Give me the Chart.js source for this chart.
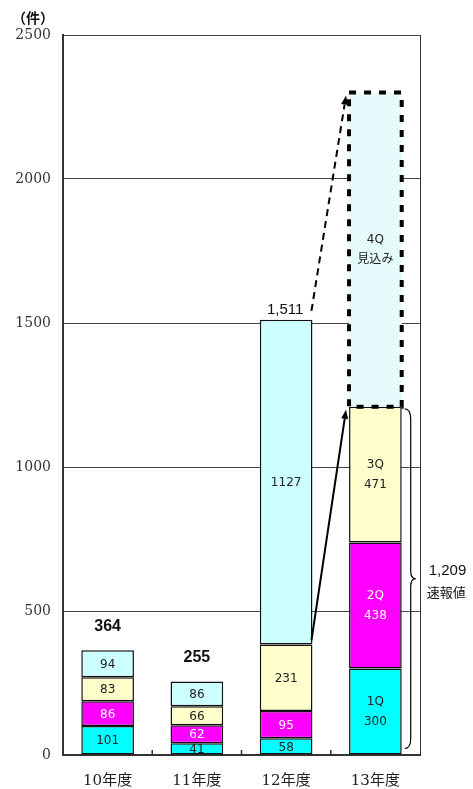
<!DOCTYPE html>
<html>
<head>
<meta charset="utf-8">
<script src="https://cdn.jsdelivr.net/npm/chart.js@4.4.0/dist/chart.umd.min.js"></script>
<style>
  html, body { margin: 0; padding: 0; background: #fff; }
  #wrap { width: 473px; height: 789px; }
</style>
</head>
<body>
<div id="wrap"><canvas id="chart" width="473" height="789"></canvas></div>
<script>
// data
const years = ["10年度", "11年度", "12年度", "13年度"];
const q1 = [101, 41, 58, 300];
const q2 = [86, 62, 95, 438];
const q3 = [83, 66, 231, 471];
const q4 = [94, 86, 1127, 1091];   // 13年度 = 見込み (estimate)
const totals = ["364", "255", "1,511", null];
const quarterNames = ["1Q", "2Q", "3Q", "4Q"];
const estimateNote = "見込み";
const prelimTotal = "1,209";
const prelimNote = "速報値";
const unitLabel = "（件）";
const yTicks = [0, 500, 1000, 1500, 2000, 2500];

const serif = '"DejaVu Serif", "Noto Sans CJK JP"';
const gothic = '"DejaVu Sans", "Noto Sans CJK JP"';

function dotPattern() {
  const c = document.createElement("canvas");
  c.width = 4; c.height = 4;
  const g = c.getContext("2d");
  g.fillStyle = "#eafdfd";
  g.fillRect(0, 0, 4, 4);
  g.fillStyle = "#cdf3f3";
  g.fillRect(0, 0, 1, 1);
  g.fillRect(2, 2, 1, 1);
  return g.createPattern(c, "repeat");
}
const estFill = dotPattern();
const EST = 3; // index of the estimated bar

function arrow(ctx, x1, y1, x2, y2, dash) {
  const a = Math.atan2(y2 - y1, x2 - x1);
  const hl = 9, hw = 3.5;
  ctx.save();
  ctx.strokeStyle = "#000";
  ctx.fillStyle = "#000";
  ctx.lineWidth = 2;
  ctx.setLineDash(dash);
  ctx.beginPath();
  ctx.moveTo(x1, y1);
  ctx.lineTo(x2 - hl * Math.cos(a), y2 - hl * Math.sin(a));
  ctx.stroke();
  ctx.setLineDash([]);
  const bx = x2 - hl * Math.cos(a), by = y2 - hl * Math.sin(a);
  ctx.beginPath();
  ctx.moveTo(x2, y2);
  ctx.lineTo(bx + hw * Math.sin(a), by - hw * Math.cos(a));
  ctx.lineTo(bx - hw * Math.sin(a), by + hw * Math.cos(a));
  ctx.closePath();
  ctx.fill();
  ctx.restore();
}

const extras = {
  id: "extras",
  afterDatasetsDraw(chart) {
    const ctx = chart.ctx;
    const area = chart.chartArea;
    const xs = chart.scales.x;
    const metas = chart.data.datasets.map((d, i) => chart.getDatasetMeta(i));

    ctx.save();
    // right frame line
    ctx.strokeStyle = "#333";
    ctx.lineWidth = 1;
    ctx.beginPath();
    ctx.moveTo(area.right + 0.5, area.top);
    ctx.lineTo(area.right + 0.5, area.bottom);
    ctx.stroke();

    // inward ticks between categories
    ctx.lineWidth = 1.5;
    for (let i = 0; i < years.length - 1; i++) {
      const bx = (xs.getPixelForValue(i) + xs.getPixelForValue(i + 1)) / 2;
      ctx.beginPath();
      ctx.moveTo(bx, area.bottom);
      ctx.lineTo(bx, area.bottom - 5);
      ctx.stroke();
    }

    // dashed outline of the estimate bar
    const est = metas[3].data[EST];
    ctx.strokeStyle = "#000";
    ctx.lineWidth = 4;
    ctx.setLineDash([7, 8]);
    ctx.strokeRect(est.x - est.width / 2, est.y, est.width, est.base - est.y);
    ctx.setLineDash([]);

    // labels inside the bars
    ctx.textAlign = "center";
    ctx.textBaseline = "middle";
    ctx.font = "12px " + gothic;
    metas.forEach((meta, di) => {
      meta.data.forEach((bar, i) => {
        const cy = (bar.y + bar.base) / 2;
        ctx.fillStyle = di === 1 ? "#fff" : "#222";
        const v = chart.data.datasets[di].data[i];
        if (i === EST) {
          ctx.fillText(quarterNames[di], bar.x, cy - 10);
          ctx.fillText(di === 3 ? estimateNote : String(v), bar.x, cy + 10);
        } else {
          ctx.fillText(String(v), bar.x, cy + 1);
        }
      });
    });

    // totals above the bars
    ctx.fillStyle = "#111";
    totals.forEach((t, i) => {
      if (!t) return;
      const top = metas[3].data[i];
      if (i === 2) {
        ctx.font = '15px "Liberation Sans", Arial';
        ctx.fillText(t, top.x - 1, top.y - 10);
      } else {
        ctx.font = 'bold 16px "Liberation Sans", Arial';
        ctx.fillText(t, top.x, top.y - 24);
      }
    });

    // arrows 12年度 -> 13年度
    const b12 = metas[2].data[2], b13 = metas[2].data[EST];
    const t12 = metas[3].data[2], t13 = metas[3].data[EST];
    const r12 = b12.x + b12.width / 2, l13 = b13.x - b13.width / 2;
    arrow(ctx, r12 - 1, b12.y - 4, l13 - 3, b13.y + 3, []);
    arrow(ctx, r12 - 1, t12.y - 9, l13 - 3, t13.y + 3, [7, 5]);

    // brace for the preliminary total
    const x0 = b13.x + b13.width / 2 + 3;
    const top = b13.y + 2, bot = metas[0].data[EST].base - 6;
    const mid = (top + bot) / 2;
    ctx.strokeStyle = "#000";
    ctx.lineWidth = 1.2;
    ctx.beginPath();
    ctx.moveTo(x0, top);
    ctx.quadraticCurveTo(x0 + 6, top, x0 + 6, top + 10);
    ctx.lineTo(x0 + 6, mid - 8);
    ctx.quadraticCurveTo(x0 + 6, mid, x0 + 11, mid);
    ctx.quadraticCurveTo(x0 + 6, mid, x0 + 6, mid + 8);
    ctx.lineTo(x0 + 6, bot - 10);
    ctx.quadraticCurveTo(x0 + 6, bot, x0, bot);
    ctx.stroke();

    ctx.textAlign = "left";
    ctx.fillStyle = "#111";
    ctx.font = '15px "Liberation Sans", Arial';
    ctx.fillText(prelimTotal, x0 + 24, mid - 8);
    ctx.font = '13px "Noto Sans CJK JP"';
    ctx.fillText(prelimNote, x0 + 22, mid + 13);

    // unit label
    ctx.textAlign = "center";
    ctx.font = 'bold 14px "Noto Sans CJK JP"';
    ctx.fillText(unitLabel, 33, 18);
    ctx.restore();
  }
};

const common = { borderColor: "#111", borderWidth: 1.5, borderSkipped: false };

new Chart(document.getElementById("chart"), {
  type: "bar",
  data: {
    labels: years,
    datasets: [
      { label: "1Q", data: q1, backgroundColor: "#00ffff", ...common },
      { label: "2Q", data: q2, backgroundColor: "#ff00ff", ...common },
      { label: "3Q", data: q3, backgroundColor: "#ffffcc", ...common },
      {
        label: "4Q", data: q4, ...common,
        backgroundColor: c => c.dataIndex === EST ? estFill : "#ccffff",
        borderWidth: c => c.dataIndex === EST ? 0 : 1.5
      }
    ]
  },
  options: {
    responsive: false,
    animation: false,
    layout: { padding: { top: 35, right: 53, left: 0, bottom: 0 } },
    datasets: { bar: { categoryPercentage: 1, barPercentage: 0.59 } },
    plugins: { legend: { display: false }, tooltip: { enabled: false } },
    scales: {
      x: {
        stacked: true,
        grid: { display: false },
        border: { display: true, color: "#333", width: 2 },
        ticks: { color: "#222", font: { family: serif, size: 15 }, padding: 9 },
        afterFit: s => { s.height = 34; }
      },
      y: {
        stacked: true,
        min: 0,
        max: 2500,
        afterBuildTicks: s => { s.ticks = yTicks.map(v => ({ value: v })); },
        grid: { color: "#444", lineWidth: 1, drawTicks: false },
        border: { display: true, color: "#333", width: 2 },
        ticks: {
          color: "#333", font: { family: serif, size: 14 }, padding: 12,
          callback: v => String(v)
        },
        afterFit: s => { s.width = 63; }
      }
    }
  },
  plugins: [extras]
});
</script>
</body>
</html>
